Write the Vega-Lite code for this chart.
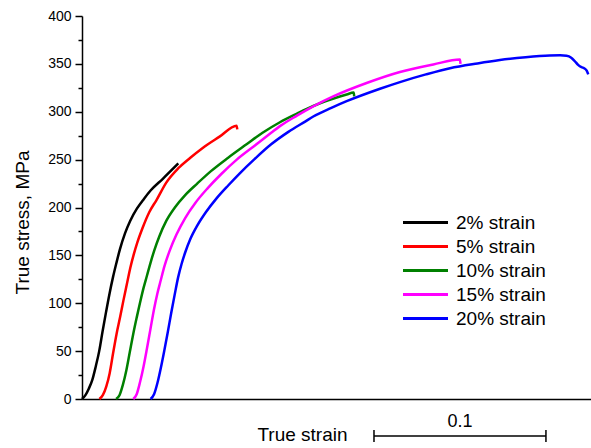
{
  "$schema": "https://vega.github.io/schema/vega-lite/v6.json",
  "width": 509,
  "height": 383,
  "autosize": {"type": "none"},
  "padding": {"left": 82, "top": 16, "right": 0, "bottom": 49},
  "background": "white",
  "config": {"view": {"stroke": null}, "font": "Liberation Sans"},
  "datasets": {
    "curves": [
      {"series": "2% strain", "o": 0, "strain": 0, "stress": 0},
      {"series": "2% strain", "o": 1, "strain": 0.002, "stress": 4},
      {"series": "2% strain", "o": 2, "strain": 0.004, "stress": 11},
      {"series": "2% strain", "o": 3, "strain": 0.006, "stress": 20},
      {"series": "2% strain", "o": 4, "strain": 0.008, "stress": 34},
      {"series": "2% strain", "o": 5, "strain": 0.010, "stress": 50},
      {"series": "2% strain", "o": 6, "strain": 0.012, "stress": 71},
      {"series": "2% strain", "o": 7, "strain": 0.014, "stress": 91},
      {"series": "2% strain", "o": 8, "strain": 0.016, "stress": 110},
      {"series": "2% strain", "o": 9, "strain": 0.018, "stress": 127},
      {"series": "2% strain", "o": 10, "strain": 0.020, "stress": 142},
      {"series": "2% strain", "o": 11, "strain": 0.022, "stress": 156},
      {"series": "2% strain", "o": 12, "strain": 0.025, "stress": 173},
      {"series": "2% strain", "o": 13, "strain": 0.028, "stress": 186},
      {"series": "2% strain", "o": 14, "strain": 0.032, "stress": 199},
      {"series": "2% strain", "o": 15, "strain": 0.036, "stress": 209},
      {"series": "2% strain", "o": 16, "strain": 0.040, "stress": 218},
      {"series": "2% strain", "o": 17, "strain": 0.047, "stress": 230},
      {"series": "2% strain", "o": 18, "strain": 0.056, "stress": 246},

      {"series": "5% strain", "o": 0, "strain": 0.0101, "stress": 0},
      {"series": "5% strain", "o": 1, "strain": 0.0121, "stress": 4},
      {"series": "5% strain", "o": 2, "strain": 0.0141, "stress": 13},
      {"series": "5% strain", "o": 3, "strain": 0.0161, "stress": 27},
      {"series": "5% strain", "o": 4, "strain": 0.0181, "stress": 48},
      {"series": "5% strain", "o": 5, "strain": 0.0201, "stress": 68},
      {"series": "5% strain", "o": 6, "strain": 0.0221, "stress": 85},
      {"series": "5% strain", "o": 7, "strain": 0.0241, "stress": 103},
      {"series": "5% strain", "o": 8, "strain": 0.0261, "stress": 120},
      {"series": "5% strain", "o": 9, "strain": 0.0281, "stress": 137},
      {"series": "5% strain", "o": 10, "strain": 0.0301, "stress": 151},
      {"series": "5% strain", "o": 11, "strain": 0.0321, "stress": 163},
      {"series": "5% strain", "o": 12, "strain": 0.0351, "stress": 178},
      {"series": "5% strain", "o": 13, "strain": 0.0391, "stress": 195},
      {"series": "5% strain", "o": 14, "strain": 0.0434, "stress": 208},
      {"series": "5% strain", "o": 15, "strain": 0.049, "stress": 226},
      {"series": "5% strain", "o": 16, "strain": 0.056, "stress": 241},
      {"series": "5% strain", "o": 17, "strain": 0.063, "stress": 252},
      {"series": "5% strain", "o": 18, "strain": 0.070, "stress": 262},
      {"series": "5% strain", "o": 19, "strain": 0.080, "stress": 274},
      {"series": "5% strain", "o": 20, "strain": 0.0899, "stress": 285.5},
      {"series": "5% strain", "o": 21, "strain": 0.0903, "stress": 281.5},

      {"series": "10% strain", "o": 0, "strain": 0.0198, "stress": 0},
      {"series": "10% strain", "o": 1, "strain": 0.0218, "stress": 4},
      {"series": "10% strain", "o": 2, "strain": 0.0238, "stress": 15},
      {"series": "10% strain", "o": 3, "strain": 0.0258, "stress": 30},
      {"series": "10% strain", "o": 4, "strain": 0.0278, "stress": 49},
      {"series": "10% strain", "o": 5, "strain": 0.0298, "stress": 68},
      {"series": "10% strain", "o": 6, "strain": 0.0318, "stress": 85},
      {"series": "10% strain", "o": 7, "strain": 0.0338, "stress": 101},
      {"series": "10% strain", "o": 8, "strain": 0.0358, "stress": 116},
      {"series": "10% strain", "o": 9, "strain": 0.0378, "stress": 129},
      {"series": "10% strain", "o": 10, "strain": 0.0398, "stress": 142},
      {"series": "10% strain", "o": 11, "strain": 0.042, "stress": 155},
      {"series": "10% strain", "o": 12, "strain": 0.045, "stress": 170},
      {"series": "10% strain", "o": 13, "strain": 0.049, "stress": 186},
      {"series": "10% strain", "o": 14, "strain": 0.054, "stress": 200},
      {"series": "10% strain", "o": 15, "strain": 0.060, "stress": 213},
      {"series": "10% strain", "o": 16, "strain": 0.067, "stress": 225},
      {"series": "10% strain", "o": 17, "strain": 0.075, "stress": 238},
      {"series": "10% strain", "o": 18, "strain": 0.085, "stress": 252},
      {"series": "10% strain", "o": 19, "strain": 0.0957, "stress": 266},
      {"series": "10% strain", "o": 20, "strain": 0.105, "stress": 278},
      {"series": "10% strain", "o": 21, "strain": 0.1151, "stress": 289},
      {"series": "10% strain", "o": 22, "strain": 0.125, "stress": 298},
      {"series": "10% strain", "o": 23, "strain": 0.1345, "stress": 306},
      {"series": "10% strain", "o": 24, "strain": 0.145, "stress": 313},
      {"series": "10% strain", "o": 25, "strain": 0.1539, "stress": 318},
      {"series": "10% strain", "o": 26, "strain": 0.158, "stress": 320},
      {"series": "10% strain", "o": 27, "strain": 0.1583, "stress": 316},

      {"series": "15% strain", "o": 0, "strain": 0.0298, "stress": 0},
      {"series": "15% strain", "o": 1, "strain": 0.0318, "stress": 5},
      {"series": "15% strain", "o": 2, "strain": 0.0338, "stress": 18},
      {"series": "15% strain", "o": 3, "strain": 0.0358, "stress": 34},
      {"series": "15% strain", "o": 4, "strain": 0.0378, "stress": 53},
      {"series": "15% strain", "o": 5, "strain": 0.0398, "stress": 73},
      {"series": "15% strain", "o": 6, "strain": 0.0418, "stress": 93},
      {"series": "15% strain", "o": 7, "strain": 0.0438, "stress": 110},
      {"series": "15% strain", "o": 8, "strain": 0.0458, "stress": 124},
      {"series": "15% strain", "o": 9, "strain": 0.048, "stress": 139},
      {"series": "15% strain", "o": 10, "strain": 0.051, "stress": 155},
      {"series": "15% strain", "o": 11, "strain": 0.055, "stress": 172},
      {"series": "15% strain", "o": 12, "strain": 0.060, "stress": 189},
      {"series": "15% strain", "o": 13, "strain": 0.066, "stress": 205},
      {"series": "15% strain", "o": 14, "strain": 0.073, "stress": 220},
      {"series": "15% strain", "o": 15, "strain": 0.081, "stress": 235},
      {"series": "15% strain", "o": 16, "strain": 0.090, "stress": 250},
      {"series": "15% strain", "o": 17, "strain": 0.100, "stress": 264},
      {"series": "15% strain", "o": 18, "strain": 0.110, "stress": 278},
      {"series": "15% strain", "o": 19, "strain": 0.1151, "stress": 285},
      {"series": "15% strain", "o": 20, "strain": 0.125, "stress": 296},
      {"series": "15% strain", "o": 21, "strain": 0.1345, "stress": 305.7},
      {"series": "15% strain", "o": 22, "strain": 0.1461, "stress": 316},
      {"series": "15% strain", "o": 23, "strain": 0.1655, "stress": 330},
      {"series": "15% strain", "o": 24, "strain": 0.1849, "stress": 341.5},
      {"series": "15% strain", "o": 25, "strain": 0.2043, "stress": 349.4},
      {"series": "15% strain", "o": 26, "strain": 0.2198, "stress": 354.5},
      {"series": "15% strain", "o": 27, "strain": 0.2201, "stress": 350},

      {"series": "20% strain", "o": 0, "strain": 0.0399, "stress": 0},
      {"series": "20% strain", "o": 1, "strain": 0.0419, "stress": 5},
      {"series": "20% strain", "o": 2, "strain": 0.0439, "stress": 17},
      {"series": "20% strain", "o": 3, "strain": 0.0459, "stress": 33},
      {"series": "20% strain", "o": 4, "strain": 0.0479, "stress": 51},
      {"series": "20% strain", "o": 5, "strain": 0.0499, "stress": 70},
      {"series": "20% strain", "o": 6, "strain": 0.0519, "stress": 90},
      {"series": "20% strain", "o": 7, "strain": 0.0539, "stress": 109},
      {"series": "20% strain", "o": 8, "strain": 0.0559, "stress": 127},
      {"series": "20% strain", "o": 9, "strain": 0.0579, "stress": 141},
      {"series": "20% strain", "o": 10, "strain": 0.060, "stress": 153},
      {"series": "20% strain", "o": 11, "strain": 0.063, "stress": 167},
      {"series": "20% strain", "o": 12, "strain": 0.067, "stress": 181},
      {"series": "20% strain", "o": 13, "strain": 0.072, "stress": 195},
      {"series": "20% strain", "o": 14, "strain": 0.078, "stress": 209},
      {"series": "20% strain", "o": 15, "strain": 0.085, "stress": 223},
      {"series": "20% strain", "o": 16, "strain": 0.0919, "stress": 236},
      {"series": "20% strain", "o": 17, "strain": 0.100, "stress": 250},
      {"series": "20% strain", "o": 18, "strain": 0.110, "stress": 266},
      {"series": "20% strain", "o": 19, "strain": 0.120, "stress": 279},
      {"series": "20% strain", "o": 20, "strain": 0.130, "stress": 290},
      {"series": "20% strain", "o": 21, "strain": 0.1345, "stress": 295},
      {"series": "20% strain", "o": 22, "strain": 0.145, "stress": 304},
      {"series": "20% strain", "o": 23, "strain": 0.1539, "stress": 311},
      {"series": "20% strain", "o": 24, "strain": 0.1733, "stress": 324},
      {"series": "20% strain", "o": 25, "strain": 0.1849, "stress": 331},
      {"series": "20% strain", "o": 26, "strain": 0.200, "stress": 339},
      {"series": "20% strain", "o": 27, "strain": 0.214, "stress": 345.5},
      {"series": "20% strain", "o": 28, "strain": 0.230, "stress": 350.5},
      {"series": "20% strain", "o": 29, "strain": 0.243, "stress": 354},
      {"series": "20% strain", "o": 30, "strain": 0.258, "stress": 357},
      {"series": "20% strain", "o": 31, "strain": 0.272, "stress": 358.8},
      {"series": "20% strain", "o": 32, "strain": 0.278, "stress": 359},
      {"series": "20% strain", "o": 33, "strain": 0.2818, "stress": 358.5},
      {"series": "20% strain", "o": 34, "strain": 0.2845, "stress": 356.5},
      {"series": "20% strain", "o": 35, "strain": 0.2865, "stress": 353},
      {"series": "20% strain", "o": 36, "strain": 0.2885, "stress": 349},
      {"series": "20% strain", "o": 37, "strain": 0.2905, "stress": 346.5},
      {"series": "20% strain", "o": 38, "strain": 0.292, "stress": 345.5},
      {"series": "20% strain", "o": 39, "strain": 0.2935, "stress": 343},
      {"series": "20% strain", "o": 40, "strain": 0.2944, "stress": 339}
    ],
    "minor": [
      {"stress": 25}, {"stress": 75}, {"stress": 125}, {"stress": 175},
      {"stress": 225}, {"stress": 275}, {"stress": 325}, {"stress": 375}
    ],
    "bar": [{"x": 0.1698, "x2": 0.2698, "y": -38.6}],
    "caps": [{"x": 0.1698, "y": -32.4, "y2": -44.9}, {"x": 0.2698, "y": -32.4, "y2": -44.9}],
    "barlabel": [{"x": 0.2198, "y": -28.9, "label": "0.1"}]
  },
  "layer": [
    {
      "data": {"name": "curves"},
      "mark": {"type": "line", "strokeWidth": 2.5, "interpolate": "monotone"},
      "encoding": {
        "x": {
          "field": "strain", "type": "quantitative",
          "scale": {"domain": [0, 0.296], "nice": false, "zero": false},
          "axis": {
            "domain": true, "domainColor": "#000000", "domainWidth": 1.5,
            "ticks": false, "labels": false, "grid": false,
            "title": "True strain", "titleFontSize": 19, "titleFontWeight": "normal",
            "titleColor": "#000000", "titleX": 220, "titleY": 41,
            "titleAlign": "center", "titleBaseline": "alphabetic"
          }
        },
        "y": {
          "field": "stress", "type": "quantitative",
          "scale": {"domain": [0, 400], "nice": false},
          "axis": {
            "orient": "left",
            "values": [0, 50, 100, 150, 200, 250, 300, 350, 400],
            "domainColor": "#000000", "domainWidth": 1.5,
            "tickColor": "#000000", "tickWidth": 1.5, "tickSize": 7,
            "labelFontSize": 14, "labelColor": "#000000", "labelPadding": 4,
            "grid": false,
            "title": "True stress, MPa", "titleFontSize": 19, "titleFontWeight": "normal",
            "titleColor": "#000000", "titleAngle": -90, "titleX": -60, "titleY": 206,
            "titleAlign": "center", "titleBaseline": "middle"
          }
        },
        "color": {
          "field": "series", "type": "nominal",
          "scale": {
            "domain": ["2% strain", "5% strain", "10% strain", "15% strain", "20% strain"],
            "range": ["#000000", "#ff0000", "#008000", "#ff00ff", "#0000ff"]
          },
          "legend": {
            "orient": "none", "legendX": 319, "legendY": 197, "title": null,
            "padding": 0,
            "symbolType": "M-1,0H5", "symbolSize": 225, "symbolStrokeWidth": 3,
            "labelFontSize": 19, "labelColor": "#000000", "labelOffset": 36,
            "rowPadding": 4
          }
        },
        "order": {"field": "o", "type": "quantitative"}
      }
    },
    {
      "data": {"name": "minor"},
      "mark": {"type": "point", "opacity": 0},
      "encoding": {
        "y": {
          "field": "stress", "type": "quantitative",
          "axis": {
            "orient": "left", "values": [25, 75, 125, 175, 225, 275, 325, 375],
            "domain": false, "labels": false, "grid": false, "title": null,
            "tickColor": "#000000", "tickWidth": 1.5, "tickSize": 4
          }
        }
      }
    },
    {
      "data": {"name": "bar"},
      "mark": {"type": "rule", "strokeWidth": 1.5, "color": "#000000"},
      "encoding": {
        "x": {"field": "x", "type": "quantitative"},
        "x2": {"field": "x2"},
        "y": {"field": "y", "type": "quantitative", "axis": null}
      }
    },
    {
      "data": {"name": "caps"},
      "mark": {"type": "rule", "strokeWidth": 1.5, "color": "#000000"},
      "encoding": {
        "x": {"field": "x", "type": "quantitative"},
        "y": {"field": "y", "type": "quantitative", "axis": null},
        "y2": {"field": "y2"}
      }
    },
    {
      "data": {"name": "barlabel"},
      "mark": {"type": "text", "fontSize": 18, "color": "#000000", "align": "center", "baseline": "alphabetic"},
      "encoding": {
        "x": {"field": "x", "type": "quantitative"},
        "y": {"field": "y", "type": "quantitative", "axis": null},
        "text": {"field": "label"}
      }
    }
  ],
  "resolve": {"axis": {"y": "independent"}}
}
